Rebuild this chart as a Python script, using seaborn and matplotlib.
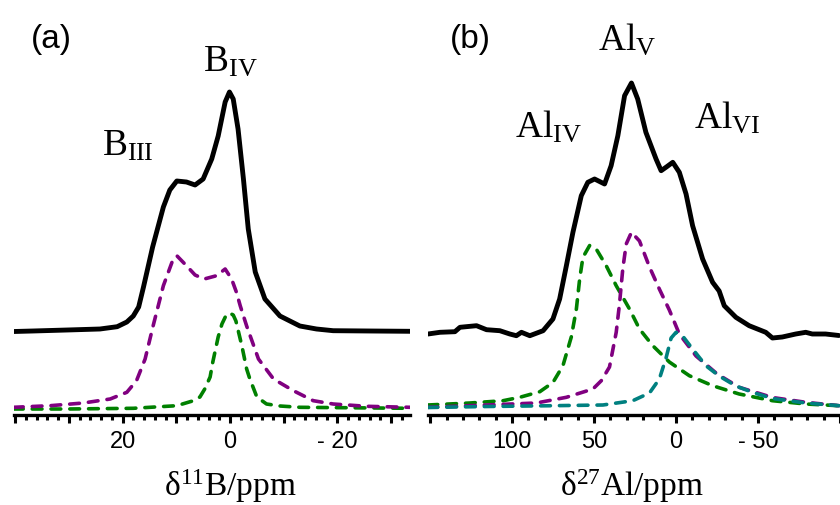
import matplotlib
matplotlib.use("Agg")
import matplotlib.pyplot as plt
import numpy as np
import pandas as pd
import seaborn as sns
from matplotlib.ticker import MultipleLocator

# ---------------- (a) 11B MAS NMR ----------------
b_ppm_total = [40.2, 36.7, 30.3, 24.2, 21.0, 19.2, 18.0, 17.0, 16.1, 14.4, 12.4, 11.2, 9.9, 8.1,
               6.5, 5.0, 3.4, 2.2, 0.9, 0.1, -0.6, -1.5, -2.5, -3.4, -4.7, -6.5, -9.3,
               -13.0, -16.1, -19.2, -26.0, -33.5]
b_int_total = [83.5, 84, 85, 86, 88.3, 93, 99, 108, 128, 168, 208, 225, 234, 233,
               230, 236, 256, 279, 313, 323, 316, 286, 236, 186, 143, 116, 99,
               89, 86, 84.3, 84, 83.7]

b_ppm_b3 = [40.3, 33.5, 27.3, 22.3, 19.2, 17.4, 15.8, 14.3, 12.4, 10.8, 9.9, 8.1, 6.5,
            4.8, 2.5, 0.9, -0.3, -1.2, -1.9, -3.1, -5.3, -8.1, -11.8, -15.5, -19.2,
            -25.4, -33.5]
b_int_b3 = [7.7, 9.3, 12, 16, 22.7, 34.3, 56, 89.3, 129.3, 152.7, 159.3, 149.3, 140,
            136, 139.3, 146, 136, 122.7, 109.3, 89, 56, 36, 24.3, 14.3, 11,
            8.7, 7.7]

b_ppm_b4 = [40.3, 30.4, 18.0, 9.9, 6.8, 5.6, 4.7, 3.7, 3.2, 2.2, 1.5, 0.7, 0.1, -0.6,
            -1.1, -2.2, -3.1, -3.7, -5.0, -6.8, -9.3, -13.0, -33.5]
b_int_b4 = [6, 6, 6.7, 9.3, 14.3, 18, 26, 38, 53, 78, 91, 100, 102, 100,
            94, 69.3, 46, 36, 18, 11, 9, 7.7, 6.7]

# ---------------- (b) 27Al MAS NMR ----------------
al_ppm_total = [151.3, 144.0, 134.9, 131.8, 121.7, 115.6, 107.5, 101.4, 97.4, 94.3, 89.2,
                81.1, 75.1, 71.0, 66.9, 62.9, 57.8, 53.8, 49.7, 43.6, 39.6, 35.5, 31.4,
                27.2, 23.4, 18.4, 12.2, 9.1, 5.9, 2.0, -2.0, -6.1, -10.1, -16.2, -22.3,
                -26.3, -29.4, -36.5, -44.6, -54.7, -58.8, -64.8, -73.0, -79.1, -83.1,
                -91.2, -99.3]
al_int_total = [81, 82.7, 83.3, 87.7, 89.3, 85.3, 84.3, 81, 79.3, 82.7, 79.3,
                84.3, 96, 116, 149.3, 182.7, 219.3, 232.7, 236, 231, 249.3, 279.3, 319.3,
                332, 316, 282.7, 256, 244.3, 248, 252.7, 242.7, 221, 189.3, 156, 132.7,
                124, 109.3, 97.7, 89.3, 82.7, 77, 78, 81, 82.7, 81,
                81, 79.5]

al_ppm_iv = [151.3, 125.7, 105.5, 95.3, 83.1, 75.1, 69.0, 63.9, 60.8, 58.8, 56.8, 52.7,
             48.7, 42.6, 36.5, 28.4, 22.3, 14.2, 4.1, -8.1, -22.3, -38.5, -58.8, -79.1,
             -99.3]
al_int_iv = [10, 12, 14.3, 17.7, 23.3, 32.5, 49.3, 78, 106, 136, 157.7, 169.5,
             166, 149.3, 129.3, 106, 86, 69.3, 53, 39.3, 29.3, 21, 14.3, 11,
             9.3]

al_ppm_v = [151.3, 115.6, 85.2, 66.9, 50.7, 45.6, 40.6, 36.5, 34.5, 32.5, 30.4, 27.2,
            22.3, 16.2, 10.2, 4.1, -2.0, -12.2, -25.1, -38.5, -58.8, -79.1, -99.3]
al_int_v = [7.7, 10, 12, 17.7, 26, 34.3, 48, 82.7, 111, 146, 171, 182.7,
            174, 148, 126, 105, 81, 59, 41, 27.7, 17.5, 12.7, 9.3]

al_ppm_vi = [151.3, 115.6, 75.1, 44.6, 26.4, 16.2, 10.2, 6.1, 3.0, 0.0, -4.0, -10.1,
             -18.2, -26.3, -36.5, -46.6, -58.8, -79.1, -99.3]
al_int_vi = [7.5, 8.5, 9.3, 10, 14.3, 22, 36, 57, 77, 82.7, 79, 66,
             49.3, 39, 29, 22.7, 16.5, 12, 9.3]

b_ticks = [40, 30, 20, 10, 0, -10, -20, -30]
b_ticklabels = ["", "", "20", "", "0", "", "- 20", ""]
al_ticks = [150, 100, 50, 0, -50, -100]
al_ticklabels = ["", "100", "50", "0", "- 50", ""]

sns.set_style("ticks")
plt.rcParams["font.family"] = ["Liberation Sans", "DejaVu Sans"]
plt.rcParams["mathtext.fontset"] = "custom"
plt.rcParams["mathtext.rm"] = "Liberation Serif"
plt.rcParams["mathtext.it"] = "Liberation Serif:italic"
plt.rcParams["mathtext.bf"] = "Liberation Serif:bold"

W, H = 840, 506
fig = plt.figure(figsize=(W / 100, H / 100), dpi=100)
fig.patch.set_facecolor("white")


def axes_px(left, right, top, bottom):
    return fig.add_axes([left / W, 1 - bottom / H, (right - left) / W, (bottom - top) / H])


ax_a = axes_px(14, 410, 0, 415.5)
ax_b = axes_px(428, 840, 0, 415.5)

DASH = (0, (2.7, 2.5))
BLACK_LW = 3.5
DASH_LW = 2.6


def curve(ax, x, y, color, lw, ls="-"):
    df = pd.DataFrame({"ppm": x, "intensity": y})
    sns.lineplot(data=df, x="ppm", y="intensity", ax=ax, color=color, lw=lw,
                 linestyle=ls, estimator=None, sort=False, legend=False,
                 solid_joinstyle="round", dash_capstyle="round", dash_joinstyle="round")


curve(ax_a, b_ppm_total, b_int_total, "black", BLACK_LW)
curve(ax_a, b_ppm_b4, b_int_b4, "#008000", DASH_LW, DASH)
curve(ax_a, b_ppm_b3, b_int_b3, "#800080", DASH_LW, DASH)

curve(ax_b, al_ppm_total, al_int_total, "black", BLACK_LW)
curve(ax_b, al_ppm_iv, al_int_iv, "#008000", DASH_LW, DASH)
curve(ax_b, al_ppm_v, al_int_v, "#800080", DASH_LW, DASH)
curve(ax_b, al_ppm_vi, al_int_vi, "#008080", DASH_LW, DASH)

ax_a.set_xlim(40.2, -33.5)
ax_b.set_xlim(151.3, -99.3)

for ax, ticks, labels, minor, label, lx in (
        (ax_a, b_ticks, b_ticklabels, 2, "δ$^{11}$B/ppm", 0.545),
        (ax_b, al_ticks, al_ticklabels, 10, "δ$^{27}$Al/ppm", 0.495)):
    ax.set_ylim(0.5, 416)
    ax.set_facecolor("none")
    ax.set_yticks([])
    ax.set_ylabel("")
    for side in ("left", "right", "top"):
        ax.spines[side].set_visible(False)
    ax.spines["bottom"].set_linewidth(2.4)
    ax.spines["bottom"].set_color("black")
    ax.set_xticks(ticks)
    ax.set_xticklabels(labels)
    ax.xaxis.set_minor_locator(MultipleLocator(minor))
    ax.tick_params(axis="x", which="major", direction="out", length=5.5, width=2.2,
                   color="black", labelsize=17, pad=5.5, labelcolor="black")
    ax.tick_params(axis="x", which="minor", direction="out", length=3.5, width=2.2,
                   color="black")
    ax.set_xlabel(label, fontsize=24, family="Liberation Serif", color="black")
    ax.xaxis.label.set_verticalalignment("baseline")
    ax.xaxis.set_label_coords(lx, (415.5 - 496) / 415.5)


def label_px(x, y, s, size, family):
    fig.text(x / W, 1 - y / H, s, ha="left", va="baseline", fontsize=size,
             family=family, color="black")


label_px(31, 48, "(a)", 24, "Liberation Sans")
label_px(450, 48, "(b)", 24, "Liberation Sans")
label_px(102, 156, r"B$_{\mathrm{III}}$", 27, "Liberation Serif")
label_px(203, 71, r"B$_{\mathrm{IV}}$", 27, "Liberation Serif")
label_px(515, 137, r"Al$_{\mathrm{IV}}$", 27, "Liberation Serif")
label_px(598, 50, r"Al$_{\mathrm{V}}$", 27, "Liberation Serif")
label_px(694, 128, r"Al$_{\mathrm{VI}}$", 27, "Liberation Serif")

fig.savefig("out.png", dpi=100, facecolor="white")
